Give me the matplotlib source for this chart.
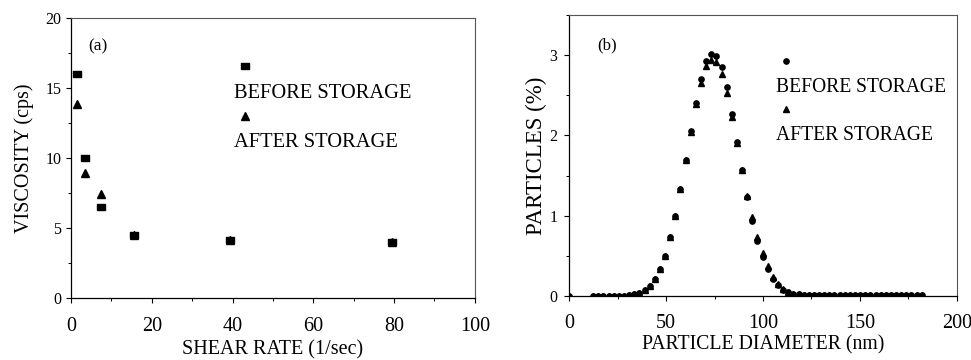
"""Viscosity vs shear rate and particle size distribution, before/after storage."""

import matplotlib
matplotlib.use("Agg")
import matplotlib.pyplot as plt
from matplotlib.lines import Line2D
from matplotlib.ticker import MultipleLocator

# ── Data ─────────────────────────────────────────────────────────────────────

shear_rate = [1.5, 3.5, 7.5, 15.5, 39.5, 79.5]
visc_before = [16.0, 10.0, 6.5, 4.5, 4.1, 4.0]
visc_after = [13.9, 8.95, 7.45, 4.5, 4.15, 4.0]

diameter = [
    0.0, 12.35, 15.0, 17.65, 20.3, 22.95, 25.6, 28.25, 30.9, 33.55, 36.2,
    38.85, 41.5, 44.15, 46.8, 49.45, 52.1, 54.75, 57.4, 60.05, 62.7, 65.35,
    68.0, 70.65, 73.3, 75.95, 78.6, 81.25, 83.9, 86.55, 89.2, 91.85, 94.5,
    97.15, 99.8, 102.45, 105.1, 107.75, 110.4, 113.05, 115.7, 118.35, 121.0,
    123.65, 126.3, 128.95, 131.6, 134.25, 136.9, 139.55, 142.2, 144.85,
    147.5, 150.15, 152.8, 155.45, 158.1, 160.75, 163.4, 166.05, 168.7,
    171.35, 174.0, 176.65, 179.3, 181.95,
]
pct_before = [
    0.0, 0.0, 0.0, 0.0, 0.0, 0.0, 0.0, 0.0, 0.01, 0.02, 0.04,
    0.07, 0.12, 0.21, 0.33, 0.50, 0.73, 1.00, 1.33, 1.69, 2.05, 2.41,
    2.71, 2.93, 3.01, 2.99, 2.85, 2.60, 2.27, 1.92, 1.57, 1.23, 0.93,
    0.68, 0.48, 0.33, 0.21, 0.13, 0.08, 0.05, 0.03, 0.02, 0.01,
    0.01, 0.01, 0.01, 0.01, 0.01, 0.01, 0.01, 0.01, 0.01,
    0.01, 0.01, 0.01, 0.01, 0.01, 0.01, 0.01, 0.01, 0.01,
    0.01, 0.01, 0.01, 0.01, 0.01,
]
pct_after = [
    0.0, 0.0, 0.0, 0.0, 0.0, 0.0, 0.0, 0.0, 0.01, 0.02, 0.04,
    0.07, 0.12, 0.21, 0.33, 0.50, 0.73, 1.00, 1.33, 1.69, 2.04, 2.39,
    2.66, 2.86, 2.94, 2.91, 2.76, 2.53, 2.23, 1.91, 1.57, 1.25, 0.98,
    0.73, 0.53, 0.37, 0.24, 0.15, 0.09, 0.05, 0.03, 0.02, 0.01,
    0.01, 0.01, 0.01, 0.01, 0.01, 0.01, 0.01, 0.01, 0.01,
    0.01, 0.01, 0.01, 0.01, 0.01, 0.01, 0.01, 0.01, 0.01,
    0.01, 0.01, 0.01, 0.01, 0.01,
]

labels = ["BEFORE STORAGE", "AFTER STORAGE"]

# ── Style ────────────────────────────────────────────────────────────────────

plt.rcParams["font.family"] = ["Liberation Serif", "DejaVu Serif"]

RECT = [(-1.45, -1), (1.45, -1), (1.45, 1), (-1.45, 1), (-1.45, -1)]
EDGE = "#555555"


def style_axes(ax, xpad, ypad):
    for side in ("top", "right"):
        ax.spines[side].set_color(EDGE)
        ax.spines[side].set_linewidth(0.8)
    for side in ("left", "bottom"):
        ax.spines[side].set_linewidth(0.9)
    ax.tick_params(which="both", direction="out")
    ax.tick_params(which="major", length=3.5, width=0.8)
    ax.tick_params(which="minor", length=2.5, width=0.7)
    ax.tick_params(axis="x", pad=xpad, labelsize=14.5)
    ax.tick_params(axis="y", pad=ypad, labelsize=11.5)


def stacked_legend(ax, handles, anchor, fontsize, spacing):
    # marker sits on its own row, label text on the row below
    blank = Line2D([], [], linestyle="none")
    h, l = [], []
    for handle, text in zip(handles, labels):
        h += [handle, blank]
        l += [" ", text]
    ax.legend(h, l, loc="upper left", bbox_to_anchor=anchor, frameon=False,
              fontsize=fontsize, handlelength=1.0, handletextpad=-1.05,
              labelspacing=spacing, borderpad=0, borderaxespad=0)


fig = plt.figure(figsize=(9.71, 3.6), dpi=100)
ax1 = fig.add_axes([0.0731, 0.173, 0.4159, 0.776])
ax2 = fig.add_axes([0.5863, 0.178, 0.399, 0.780])

# ── (a) viscosity ────────────────────────────────────────────────────────────

ax1.plot(shear_rate, visc_after, linestyle="none", marker="^", ms=5.2,
         color="black", zorder=2)
ax1.plot(shear_rate, visc_before, linestyle="none", marker=RECT, ms=5.4,
         color="black", zorder=3)
ax1.set_xlim(0, 100)
ax1.set_ylim(0, 20)
ax1.xaxis.set_major_locator(MultipleLocator(20))
ax1.xaxis.set_minor_locator(MultipleLocator(10))
ax1.yaxis.set_major_locator(MultipleLocator(5))
ax1.yaxis.set_minor_locator(MultipleLocator(2.5))
style_axes(ax1, xpad=10.5, ypad=3.5)
ax1.set_xlabel("SHEAR RATE (1/sec)", fontsize=14.5, labelpad=3.2)
ax1.set_ylabel("VISCOSITY (cps)", fontsize=14.5, labelpad=8)
ax1.text(0.042, 0.898, "(a)", transform=ax1.transAxes, fontsize=12.5,
         va="center")
stacked_legend(ax1, [
    Line2D([], [], linestyle="none", marker=RECT, ms=5.4, color="black"),
    Line2D([], [], linestyle="none", marker="^", ms=5.2, color="black"),
], anchor=(0.406, 0.854), fontsize=14.75, spacing=0.26)

# ── (b) particle size ────────────────────────────────────────────────────────

ax2.plot(diameter, pct_after, linestyle="none", marker="^", ms=3.9,
         color="black", zorder=3)
ax2.plot(diameter, pct_before, linestyle="none", marker="o", ms=3.8,
         color="black", zorder=3)
ax2.set_xlim(0, 200)
ax2.set_ylim(0, 3.5)
ax2.xaxis.set_major_locator(MultipleLocator(50))
ax2.xaxis.set_minor_locator(MultipleLocator(25))
ax2.yaxis.set_major_locator(MultipleLocator(1))
ax2.yaxis.set_minor_locator(MultipleLocator(0.5))
style_axes(ax2, xpad=9.5, ypad=5)
ax2.set_yticks([0, 1, 2, 3])
ax2.set_xlabel("PARTICLE DIAMETER (nm)", fontsize=14.2, labelpad=1.8)
ax2.set_ylabel("PARTICLES (%)", fontsize=16.5, labelpad=2)
ax2.text(0.072, 0.893, "(b)", transform=ax2.transAxes, fontsize=12,
         va="center")
stacked_legend(ax2, [
    Line2D([], [], linestyle="none", marker="o", ms=3.8, color="black"),
    Line2D([], [], linestyle="none", marker="^", ms=3.9, color="black"),
], anchor=(0.535, 0.863), fontsize=14.1, spacing=0.27)

fig.savefig("out.png", dpi=100)
